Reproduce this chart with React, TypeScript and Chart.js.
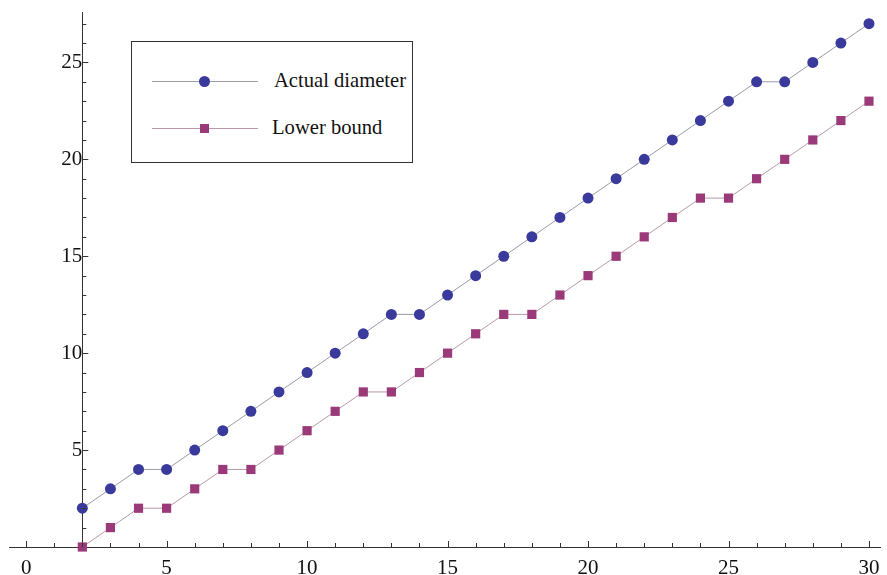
import React, { useEffect, useRef } from "react";
import { Chart, registerables } from "chart.js";

Chart.register(...registerables);

const nValues = [2, 3, 4, 5, 6, 7, 8, 9, 10, 11, 12, 13, 14, 15, 16, 17, 18, 19, 20, 21, 22, 23, 24, 25, 26, 27, 28, 29, 30];
const actualDiameter = [2, 3, 4, 4, 5, 6, 7, 8, 9, 10, 11, 12, 12, 13, 14, 15, 16, 17, 18, 19, 20, 21, 22, 23, 24, 24, 25, 26, 27];
const lowerBound = [0, 1, 2, 2, 3, 4, 4, 5, 6, 7, 8, 8, 9, 10, 11, 12, 12, 13, 14, 15, 16, 17, 18, 18, 19, 20, 21, 22, 23];
const xTickValues = [0, 5, 10, 15, 20, 25, 30];
const yTickValues = [5, 10, 15, 20, 25];
const seriesNames = ["Actual diameter", "Lower bound"];

const BLUE = "#3a3a9c";
const MAROON = "#9a3a78";
const BLUE_LINE = "#9a9aaa";
const MAROON_LINE = "#b898aa";
const AXIS = "#333333";
const FONT = "'Liberation Serif', 'Times New Roman', serif";

const insideTicks = {
  id: "insideTicks",
  afterDraw(chart: any) {
    const ctx = chart.ctx;
    const xs = chart.scales.x;
    const ys = chart.scales.y;
    const x0 = xs.getPixelForValue(2);
    const y0 = ys.getPixelForValue(0);
    ctx.save();
    ctx.strokeStyle = AXIS;
    ctx.lineWidth = 1;
    ctx.beginPath();
    for (let v = Math.ceil(xs.min); v <= Math.floor(xs.max); v++) {
      const px = Math.round(xs.getPixelForValue(v)) + 0.5;
      const len = v % 5 === 0 ? 6 : 4;
      ctx.moveTo(px, y0);
      ctx.lineTo(px, y0 - len);
    }
    for (let v = 1; v <= Math.floor(ys.max); v++) {
      const py = Math.round(ys.getPixelForValue(v)) + 0.5;
      const len = v % 5 === 0 ? 6 : 4;
      ctx.moveTo(x0, py);
      ctx.lineTo(x0 + len, py);
    }
    ctx.stroke();
    ctx.restore();
  },
};

export default function App() {
  const canvasRef = useRef<HTMLCanvasElement | null>(null);

  useEffect(() => {
    const canvas = canvasRef.current;
    if (!canvas) return;
    const chart = new Chart(canvas, {
      type: "line",
      data: {
        datasets: [
          {
            label: seriesNames[0],
            data: nValues.map((n, i) => ({ x: n, y: actualDiameter[i] })),
            borderColor: BLUE_LINE,
            borderWidth: 1,
            backgroundColor: BLUE,
            pointBackgroundColor: BLUE,
            pointBorderColor: BLUE,
            pointBorderWidth: 0,
            pointStyle: "circle",
            pointRadius: 5.5,
            clip: false as any,
          },
          {
            label: seriesNames[1],
            data: nValues.map((n, i) => ({ x: n, y: lowerBound[i] })),
            borderColor: MAROON_LINE,
            borderWidth: 1,
            backgroundColor: MAROON,
            pointBackgroundColor: MAROON,
            pointBorderColor: MAROON,
            pointBorderWidth: 0,
            pointStyle: "rect",
            pointRadius: 6.5,
            clip: false as any,
          },
        ],
      },
      options: {
        animation: false,
        responsive: false,
        events: [],
        layout: { padding: { left: 9, right: 0, top: 11, bottom: 28 } },
        plugins: { legend: { display: false }, tooltip: { enabled: false } },
        scales: {
          x: {
            type: "linear",
            min: -0.61,
            max: 30.41,
            position: { y: 0 } as any,
            afterBuildTicks: (s: any) => {
              s.ticks = xTickValues.map((v) => ({ value: v }));
            },
            grid: { drawOnChartArea: false, drawTicks: true, tickLength: 9, tickColor: "rgba(0,0,0,0)" },
            border: { display: true, color: AXIS, width: 1 },
            ticks: { color: "#111", font: { family: FONT, size: 21 }, padding: 0, maxRotation: 0 },
          },
          y: {
            type: "linear",
            min: 0,
            max: 27.57,
            position: { x: 2 } as any,
            afterBuildTicks: (s: any) => {
              s.ticks = yTickValues.map((v) => ({ value: v }));
            },
            grid: { drawOnChartArea: false, drawTicks: true, tickLength: 11, tickColor: "rgba(0,0,0,0)" },
            border: { display: true, color: AXIS, width: 1 },
            ticks: { color: "#111", font: { family: FONT, size: 21 }, padding: 0 },
          },
        },
      },
      plugins: [insideTicks],
    });
    return () => chart.destroy();
  }, []);

  const legendRow = (name: string, color: string, line: string, round: boolean, top: number) => (
    <div style={{ position: "absolute", left: 0, top, height: 0, width: "100%" }}>
      <div style={{ position: "absolute", left: 20, width: 106, top: 0, height: 1, background: line }} />
      <div
        style={{
          position: "absolute",
          left: round ? 67 : 68,
          top: round ? -5 : -4,
          width: round ? 11 : 9,
          height: round ? 11 : 9,
          borderRadius: round ? "50%" : 0,
          background: color,
        }}
      />
      <div
        style={{
          position: "absolute",
          left: round ? 142 : 140,
          top: -13,
          fontFamily: FONT,
          fontSize: 20.6,
          lineHeight: "24px",
          color: "#111",
          whiteSpace: "nowrap",
        }}
      >
        {name}
      </div>
    </div>
  );

  return (
    <div style={{ position: "fixed", left: 0, top: 0, width: 887, height: 575, background: "#fff" }}>
      <canvas ref={canvasRef} width={887} height={575} style={{ display: "block", width: 887, height: 575 }} />
      <div
        style={{
          position: "absolute",
          left: 131,
          top: 41,
          width: 280,
          height: 120,
          border: "1px solid #333",
          background: "#fff",
        }}
      >
        {legendRow(seriesNames[0], BLUE, BLUE_LINE, true, 39)}
        {legendRow(seriesNames[1], MAROON, MAROON_LINE, false, 86)}
      </div>
    </div>
  );
}
